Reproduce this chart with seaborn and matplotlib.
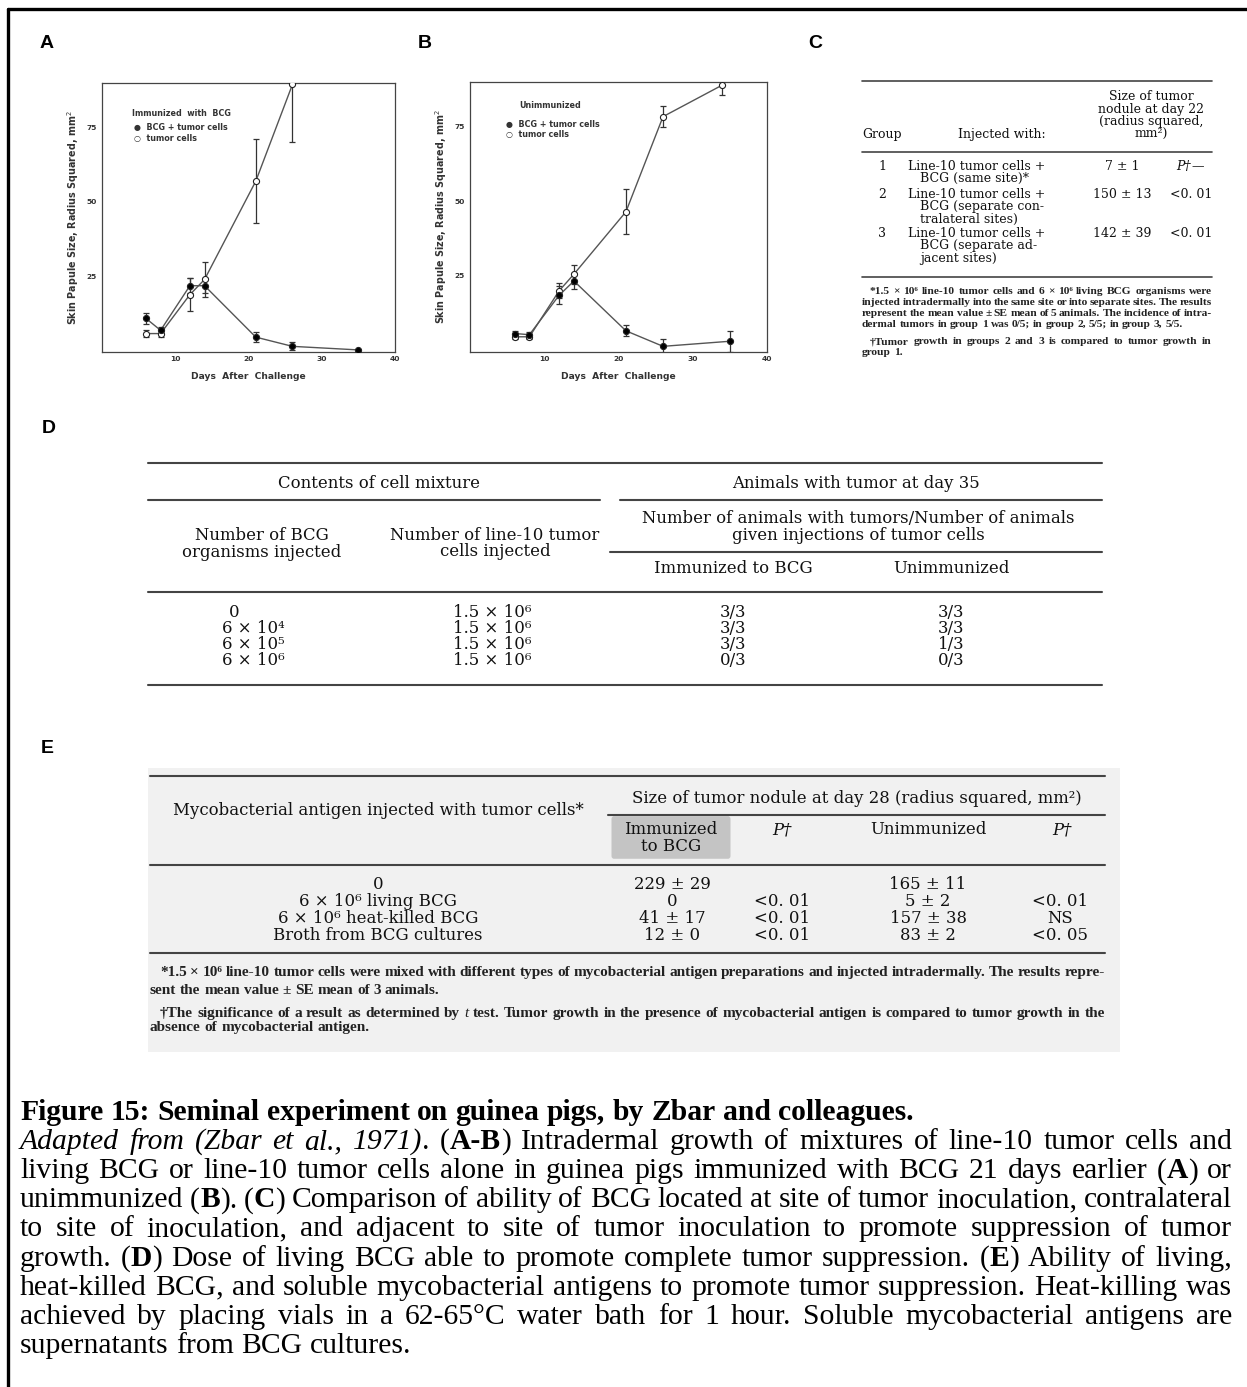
import numpy as np
import pandas as pd
import matplotlib
matplotlib.use("Agg")
import matplotlib.pyplot as plt
import seaborn as sns
from matplotlib import font_manager
from matplotlib.lines import Line2D
from matplotlib.patches import Rectangle, FancyBboxPatch

# ---- data: panels A and B ----
days_a_bcg = [6, 8, 12, 14, 21, 26, 35]
size_a_bcg = [10.8, 6.8, 21.8, 21.8, 4.5, 1.4, 0.2]
err_a_bcg = [1.8, 1.2, 2.6, 2.5, 1.8, 1.3, 0.0]
days_a_tum = [6, 8, 12, 14, 21, 26]
size_a_tum = [5.7, 5.7, 18.8, 23.9, 57.0, 89.5]
err_a_tum = [1.1, 1.0, 5.5, 6.0, 14.0, 19.5]

days_b_bcg = [6, 8, 12, 14, 21, 26, 35]
size_b_bcg = [5.7, 5.3, 18.5, 23.3, 6.6, 1.4, 3.1]
err_b_bcg = [1.0, 1.0, 3.0, 2.8, 1.8, 2.5, 3.5]
days_b_tum = [6, 8, 12, 14, 21, 26, 34]
size_b_tum = [4.6, 4.6, 20.0, 25.6, 46.5, 78.4, 89.0]
err_b_tum = [0.8, 0.8, 2.5, 3.2, 7.5, 3.5, 3.3]

# ---- data: panel C ----
c_groups = ["1", "2", "3"]
c_injected = [["Line-10 tumor cells +", "BCG (same site)*"],
              ["Line-10 tumor cells +", "BCG (separate con-", "tralateral sites)"],
              ["Line-10 tumor cells +", "BCG (separate ad-", "jacent sites)"]]
c_nodule = ["7 ± 1", "150 ± 13", "142 ± 39"]
c_pvals = ["P†—", "<0. 01", "<0. 01"]

# ---- data: panel D ----
d_bcg = ["0", "6 × 10⁴", "6 × 10⁵", "6 × 10⁶"]
d_tumor = ["1.5 × 10⁶", "1.5 × 10⁶", "1.5 × 10⁶", "1.5 × 10⁶"]
d_immunized = ["3/3", "3/3", "3/3", "0/3"]
d_unimmunized = ["3/3", "3/3", "1/3", "0/3"]

# ---- data: panel E ----
e_antigen = ["0", "6 × 10⁶ living BCG", "6 × 10⁶ heat-killed BCG", "Broth from BCG cultures"]
e_imm = ["229 ± 29", "0", "41 ± 17", "12 ± 0"]
e_imm_p = ["", "<0. 01", "<0. 01", "<0. 01"]
e_unimm = ["165 ± 11", "5 ± 2", "157 ± 38", "83 ± 2"]
e_unimm_p = ["", "<0. 01", "NS", "<0. 05"]

W, H = 1247, 1387
sns.set_theme(style="white")
plt.rcParams['font.family'] = ['DejaVu Sans']

installed = {f.name for f in font_manager.fontManager.ttflist}
TIMES = next((n for n in ["Liberation Serif", "Nimbus Roman", "Times New Roman", "DejaVu Serif"]
              if n in installed), "DejaVu Serif")

fig = plt.figure(figsize=(W / 100, H / 100), dpi=100)
fig.patch.set_facecolor("white")
renderer = fig.canvas.get_renderer()

INK = "#111111"
SERIF = "DejaVu Serif"


def fx(x):
    return x / W


def fy(y):
    return 1 - y / H


def txt(x, y, s, size=9, ha='left', va='baseline', family=SERIF, weight='normal',
        style='normal', color=INK):
    return fig.text(fx(x), fy(y), s, fontsize=size, ha=ha, va=va, family=family,
                    weight=weight, style=style, color=color)


def width_of(s, size, family, weight='normal', style='normal'):
    t = fig.text(0, 0, s, fontsize=size, family=family, weight=weight, style=style)
    w = t.get_window_extent(renderer).width
    t.remove()
    return w


def fit_size(s, target, family, weight='normal', style='normal'):
    # small sizes do not scale linearly (hinting), so refine a few times
    size = 10.0
    for _ in range(4):
        size = size * target / width_of(s, size, family, weight, style)
    return size


def hrule(x0, x1, y, lw=1.5, color="#444444"):
    fig.add_artist(Line2D([fx(x0), fx(x1)], [fy(y), fy(y)], lw=lw, color=color,
                          transform=fig.transFigure))


STYLES = {'n': ('normal', 'normal'), 'b': ('bold', 'normal'), 'i': ('normal', 'italic')}


def tokenize(segs):
    tokens = [[]]
    for s, st in segs:
        parts = s.split(' ')
        for i, p in enumerate(parts):
            if i > 0:
                tokens.append([])
            if p:
                tokens[-1].append((p, st))
    return [t for t in tokens if t]


def draw_line(segs, x0, y, size, family, x1=None, base='n', color="black"):
    tokens = tokenize(segs)
    widths = []
    for tok in tokens:
        ws = []
        for s, st in tok:
            wgt, sty = STYLES[st]
            ws.append(width_of(s, size, family, wgt, sty))
        widths.append(ws)
    total = sum(sum(w) for w in widths)
    wgt, sty = STYLES[base]
    space = width_of("x x", size, family, wgt, sty) - width_of("xx", size, family, wgt, sty)
    if x1 is None or len(tokens) < 2:
        gap = space
    else:
        gap = max((x1 - x0 - total) / (len(tokens) - 1), 0.6 * space)
    x = x0
    for tok, ws in zip(tokens, widths):
        for (s, st), w in zip(tok, ws):
            wgt, sty = STYLES[st]
            txt(x, y, s, size=size, family=family, weight=wgt, style=sty, color=color)
            x += w
        x += gap


# ---- outer frame (only left and top edges are visible) ----
fig.add_artist(Line2D([fx(8), fx(8)], [fy(9), fy(H + 5)], lw=2.4, color="black",
                      transform=fig.transFigure))
fig.add_artist(Line2D([fx(8), fx(W + 5)], [fy(9), fy(9)], lw=2.4, color="black",
                      transform=fig.transFigure))

# ---- panel letters ----
for letter, (lx, ly) in {"A": (40, 48), "B": (418, 48), "C": (808, 48),
                         "D": (42, 433), "E": (41, 753)}.items():
    txt(lx, ly, letter, size=14, family="Liberation Sans", weight="bold", color="black")

# ---- panels A and B ----
PLOT_INK = "#333333"
ylab = "Skin Papule Size, Radius Squared, mm$^2$"
xlab = "Days  After  Challenge"
ylab_size = fit_size(ylab, 214, "DejaVu Sans", weight="bold")
xlab_size = fit_size(xlab, 115, "DejaVu Sans", weight="bold")
leg_size = fit_size("Immunized  with  BCG", 98, "DejaVu Sans", weight="bold")


def growth_panel(box, days1, size1, err1, days2, size2, err2, title, legend_xy):
    left, top, right, bottom = box
    ax = fig.add_axes([fx(left), fy(bottom), (right - left) / W, (bottom - top) / H])
    line_col = "#555555"
    df1 = pd.DataFrame({"day": days1, "size": size1, "err": err1})
    df2 = pd.DataFrame({"day": days2, "size": size2, "err": err2})
    for df, face in [(df2, "white"), (df1, "black")]:
        ax.errorbar(df["day"], df["size"], yerr=df["err"], fmt="none", ecolor=PLOT_INK,
                    elinewidth=0.9, capsize=2.3, capthick=0.9, zorder=2)
        sns.lineplot(data=df, x="day", y="size", ax=ax, color=line_col, lw=1.0,
                     marker="o", markersize=4.4, markerfacecolor=face,
                     markeredgecolor="#222222", markeredgewidth=0.8, zorder=3)
    ax.set_xlim(0, 40)
    ax.set_ylim(-0.5, 90)
    ax.set_xticks([10, 20, 30, 40])
    ax.set_yticks([25, 50, 75])
    ax.tick_params(axis="both", labelsize=5.4, length=2.5, width=0.7, pad=1.5,
                   colors=PLOT_INK, direction="out")
    ax.tick_params(axis="x", direction="in", pad=3)
    for lab in ax.get_xticklabels() + ax.get_yticklabels():
        lab.set_fontweight("bold")
    for sp in ax.spines.values():
        sp.set_color("#444444")
        sp.set_linewidth(0.9)
    ax.set_xlabel(xlab, fontsize=xlab_size, fontweight="bold", color=PLOT_INK, labelpad=7)
    ax.set_ylabel(ylab, fontsize=ylab_size, fontweight="bold", color=PLOT_INK, labelpad=4)
    ax.set_facecolor("white")
    lx, ly = legend_xy
    tx, ty, ttl = title
    txt(tx, ty, ttl, size=leg_size, family="DejaVu Sans", weight="bold", color=PLOT_INK)
    txt(lx, ly, "●  BCG + tumor cells", size=leg_size, family="DejaVu Sans", weight="bold",
        color=PLOT_INK)
    txt(lx, ly + 10.5, "○  tumor cells", size=leg_size, family="DejaVu Sans", weight="bold",
        color=PLOT_INK)
    return ax


growth_panel((102, 83, 395, 352), days_a_bcg, size_a_bcg, err_a_bcg,
             days_a_tum, size_a_tum, err_a_tum, (132, 116, "Immunized  with  BCG"), (134, 130))
growth_panel((470, 82, 767, 352), days_b_bcg, size_b_bcg, err_b_bcg,
             days_b_tum, size_b_tum, err_b_tum, (519, 108, "Unimmunized"), (506, 127))

# ---- panel C ----
c_size = fit_size("Line-10 tumor cells +", 139, SERIF)
hrule(862, 1212, 81, lw=1.2)
for i, s in enumerate(["Size of tumor", "nodule at day 22", "(radius squared,", "mm²)"]):
    txt(1151, 100 + 12.6 * i, s, size=c_size, ha="center")
txt(882, 138, "Group", size=c_size, ha="center")
txt(1002, 138, "Injected with:", size=c_size, ha="center")
hrule(862, 1212, 152, lw=1.2)
c_rows_y = [170, 198, 237]
for g, inj, nod, p, y in zip(c_groups, c_injected, c_nodule, c_pvals, c_rows_y):
    txt(882, y, g, size=c_size, ha="center")
    for j, s in enumerate(inj):
        txt(908 if j == 0 else 920, y + 12.3 * j, s, size=c_size)
    txt(1122, y, nod, size=c_size, ha="center")
    if p.startswith("P"):
        txt(1176, y, "P†", size=c_size, style="italic")
        txt(1177 + width_of("P†", c_size, SERIF, style="italic"), y, "—", size=c_size)
    else:
        txt(1212, y, p, size=c_size, ha="right")
hrule(862, 1212, 277, lw=1.2)

FOOT = TIMES
c_foot = [
    ([("*1.5 × 10⁶ line-10 tumor cells and 6 × 10⁶ living BCG organisms were", 'b')], 870, True),
    ([("injected intradermally into the same site or into separate sites. The results", 'b')], 862, True),
    ([("represent the mean value ± SE mean of 5 animals. The incidence of intra-", 'b')], 862, True),
    ([("dermal tumors in group 1 was 0/5; in group 2, 5/5; in group 3, 5/5.", 'b')], 862, False),
    ([("†Tumor growth in groups 2 and 3 is compared to tumor growth in", 'b')], 870, True),
    ([("group 1.", 'b')], 862, False),
]
cf_size = fit_size("injected intradermally into the same site or into separate sites. The results",
                   362, FOOT, weight="bold")
for (segs, x0, just), y in zip(c_foot, [294, 305, 316, 327, 344, 355]):
    draw_line(segs, x0, y, cf_size, FOOT, x1=1212 if just else None, base='b', color="#222222")

# ---- panel D ----
d_size = fit_size("Contents of cell mixture", 202, SERIF)
hrule(148, 1102, 463)
txt(379, 488, "Contents of cell mixture", size=d_size, ha="center")
txt(856, 488, "Animals with tumor at day 35", size=d_size, ha="center")
hrule(148, 600, 500)
hrule(620, 1102, 500)
txt(858, 523, "Number of animals with tumors/Number of animals", size=d_size, ha="center")
txt(858, 540, "given injections of tumor cells", size=d_size, ha="center")
hrule(610, 1102, 552)
txt(262, 540, "Number of BCG", size=d_size, ha="center")
txt(262, 557, "organisms injected", size=d_size, ha="center")
txt(495, 540, "Number of line-10 tumor", size=d_size, ha="center")
txt(495, 556, "cells injected", size=d_size, ha="center")
txt(733, 573, "Immunized to BCG", size=d_size, ha="center")
txt(951, 573, "Unimmunized", size=d_size, ha="center")
hrule(148, 1102, 592)
for i, (b, t, im, un) in enumerate(zip(d_bcg, d_tumor, d_immunized, d_unimmunized)):
    y = 617 + 16 * i
    txt(222 if "×" in b else 229, y, b, size=d_size)
    txt(453, y, t, size=d_size)
    txt(733, y, im, size=d_size, ha="center")
    txt(951, y, un, size=d_size, ha="center")
hrule(148, 1102, 685)

# ---- panel E ----
fig.add_artist(Rectangle((fx(148), fy(1052)), (1120 - 148) / W, (1052 - 768) / H,
                         transform=fig.transFigure, facecolor="#f1f1f1", edgecolor="none",
                         zorder=0))
fig.add_artist(FancyBboxPatch((fx(614), fy(856)), (728 - 614) / W, (856 - 819) / H,
                              boxstyle="round,pad=0.002", transform=fig.transFigure,
                              facecolor="#c4c4c4", edgecolor="none", zorder=0.5))
e_size = fit_size("Mycobacterial antigen injected with tumor cells*", 407, SERIF)
hrule(150, 1105, 776)
txt(857, 803, "Size of tumor nodule at day 28 (radius squared, mm²)", size=e_size, ha="center")
txt(378, 815, "Mycobacterial antigen injected with tumor cells*", size=e_size, ha="center")
hrule(608, 1105, 815)
txt(671, 834, "Immunized", size=e_size, ha="center")
txt(671, 851, "to BCG", size=e_size, ha="center")
txt(782, 834, "P†", size=e_size, ha="center", style="italic")
txt(928, 834, "Unimmunized", size=e_size, ha="center")
txt(1062, 834, "P†", size=e_size, ha="center", style="italic")
hrule(150, 1105, 865)
for i, (a, im, ip, un, up) in enumerate(zip(e_antigen, e_imm, e_imm_p, e_unimm, e_unimm_p)):
    y = 889 + 17 * i
    txt(378, y, a, size=e_size, ha="center")
    txt(672, y, im, size=e_size, ha="center")
    txt(782, y, ip, size=e_size, ha="center")
    txt(928, y, un, size=e_size, ha="center")
    txt(1060, y, up, size=e_size, ha="center")
hrule(150, 1105, 953)

e_line1 = ("*1.5 × 10⁶ line-10 tumor cells were mixed with different types of mycobacterial antigen "
           "preparations and injected intradermally. The results repre-")
e_foot = [
    ([(e_line1, 'b')], 160, True),
    ([("sent the mean value ± SE mean of 3 animals.", 'b')], 150, False),
    ([("†The significance of a result as determined by ", 'b'), ("t", 'i'),
      (" test. Tumor growth in the presence of mycobacterial antigen is compared to tumor growth in the", 'b')],
     160, True),
    ([("absence of mycobacterial antigen.", 'b')], 150, False),
]
ef_size = fit_size(e_line1, 945, FOOT, weight="bold")
for (segs, x0, just), y in zip(e_foot, [976, 994, 1017, 1031]):
    draw_line(segs, x0, y, ef_size, FOOT, x1=1105 if just else None, base='b', color="#222222")

# ---- caption ----
CAP = TIMES
cap_size = fit_size("Figure 15: Seminal experiment on guinea pigs, by Zbar and colleagues.", 896,
                    CAP, weight="bold")
caption = [
    ([("Figure 15: Seminal experiment on guinea pigs, by Zbar and colleagues.", 'b')], False),
    ([("Adapted from (Zbar et al., 1971)", 'i'), (". (", 'n'), ("A-B", 'b'),
      (") Intradermal growth of mixtures of line-10 tumor cells and", 'n')], True),
    ([("living BCG or line-10 tumor cells alone in guinea pigs immunized with BCG 21 days earlier (", 'n'),
      ("A", 'b'), (") or", 'n')], True),
    ([("unimmunized (", 'n'), ("B", 'b'), ("). (", 'n'), ("C", 'b'),
      (") Comparison of ability of BCG located at site of tumor inoculation, contralateral", 'n')], True),
    ([("to site of inoculation, and adjacent to site of tumor inoculation to promote suppression of tumor", 'n')], True),
    ([("growth. (", 'n'), ("D", 'b'), (") Dose of living BCG able to promote complete tumor suppression. (", 'n'),
      ("E", 'b'), (") Ability of living,", 'n')], True),
    ([("heat-killed BCG, and soluble mycobacterial antigens to promote tumor suppression. Heat-killing was", 'n')], True),
    ([("achieved by placing vials in a 62-65°C water bath for 1 hour. Soluble mycobacterial antigens are", 'n')], True),
    ([("supernatants from BCG cultures.", 'n')], False),
]
for i, (segs, just) in enumerate(caption):
    y = 1120 + 29.1 * i
    draw_line(segs, 20, y, cap_size, CAP, x1=1232 if just else None)

fig.savefig("out.png", dpi=100, facecolor="white")
